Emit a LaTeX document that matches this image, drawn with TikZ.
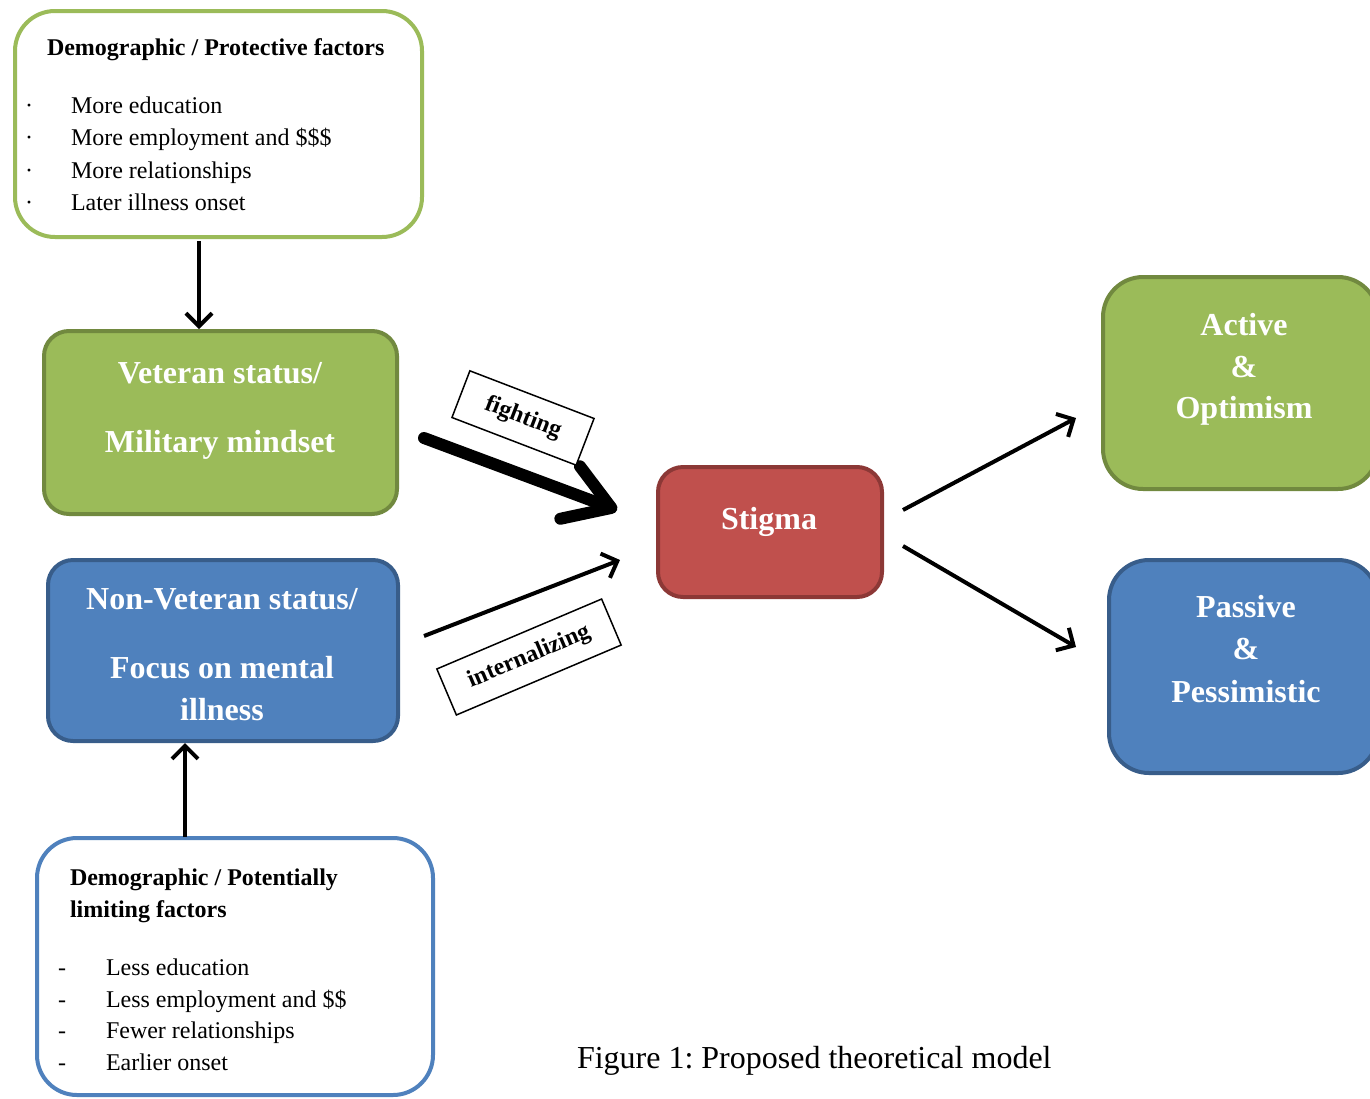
\documentclass[tikz,border=0pt]{standalone}
\usepackage{fontspec}
\setmainfont{Liberation Serif}
\usetikzlibrary{arrows.meta}
\frenchspacing
\definecolor{gfill}{HTML}{9BBB59}
\definecolor{gdark}{HTML}{71893F}
\definecolor{bfill}{HTML}{4F81BD}
\definecolor{bdark}{HTML}{385D8A}
\definecolor{rfill}{HTML}{C0504D}
\definecolor{rdark}{HTML}{8C3836}
\begin{document}
\begin{tikzpicture}[x=1pt,y=-1pt,
  every node/.style={inner sep=0pt, outer sep=0pt},
  panel/.style={draw, line width=4pt, rounded corners=#1},
  panel/.default=25pt,
  bodytxt/.style={anchor=base west, font=\fontsize{24}{28}\selectfont},
  headtxt/.style={anchor=base west, font=\bfseries\fontsize{24}{28}\selectfont},
  wtxt/.style={anchor=base, text=white, font=\bfseries\fontsize{32}{36}\selectfont},
  lbl/.style={draw, line width=1.5pt, fill=white, minimum height=50pt, font=\bfseries\fontsize{24}{28}\selectfont},
  arr/.style={line width=4pt, -{Straight Barb[length=13pt,width=26pt]}},
  bigarr/.style={line width=12pt, line cap=round, -{Straight Barb[length=44pt,width=56pt,round]}}
]
\useasboundingbox (0,0) rectangle (1370,1098);
\clip (0,0) rectangle (1370,1098);

% boxes
\node[panel=40pt, draw=gfill, fill=white, minimum width=407pt, minimum height=226pt] (top) at (218.5,124) {};
\node[panel, draw=gdark, fill=gfill, minimum width=353pt, minimum height=183pt] (vet) at (220.5,422.5) {};
\node[panel, draw=bdark, fill=bfill, minimum width=350pt, minimum height=181pt] (nonvet) at (223,650.5) {};
\node[panel=40pt, draw=bfill, fill=white, minimum width=396pt, minimum height=257pt] (bottom) at (235,966.5) {};
\node[panel, draw=rdark, fill=rfill, minimum width=224pt, minimum height=130pt] (stigma) at (770,532) {};
\node[panel=40pt, draw=gdark, fill=gfill, minimum width=275pt, minimum height=212pt] (active) at (1240.5,383) {};
\node[panel=40pt, draw=bdark, fill=bfill, minimum width=269pt, minimum height=213pt] (passive) at (1243.5,666.5) {};

% top box text
\node[headtxt] (toph) at (47,55) {Demographic / Protective factors};
\foreach \i/\yy/\t in {1/113/More education, 2/145/More employment and \$\$\$, 3/178/More relationships, 4/210/Later illness onset}{
  \node[bodytxt] (topb\i) at (25,\yy) {\textperiodcentered};
  \node[bodytxt] (topt\i) at (71,\yy) {\t};
}

% bottom box text
\node[headtxt] (both1) at (70,885) {Demographic / Potentially};
\node[headtxt] (both2) at (70,917) {limiting factors};
\foreach \i/\yy/\t in {1/975/Less education, 2/1007/Less employment and \$\$, 3/1038/Fewer relationships, 4/1070/Earlier onset}{
  \node[bodytxt] (botd\i) at (58,\yy) {-};
  \node[bodytxt] (bott\i) at (106,\yy) {\t};
}

% white texts
\node[wtxt] (vt1) at (220,383) {Veteran status/};
\node[wtxt] (vt2) at (220,452) {Military mindset};
\node[wtxt] (nv1) at (222,609) {Non-Veteran status/};
\node[wtxt] (nv2) at (222,678) {Focus on mental};
\node[wtxt] (nv3) at (222,720) {illness};
\node[wtxt] (st) at (769,529) {Stigma};
\node[wtxt] (ac1) at (1244,335) {Active};
\node[wtxt] (ac2) at (1244,377) {\&};
\node[wtxt] (ac3) at (1244,418) {Optimism};
\node[wtxt] (pa1) at (1246,617) {Passive};
\node[wtxt] (pa2) at (1246,659) {\&};
\node[wtxt] (pa3) at (1246,702) {Pessimistic};

% caption
\node[anchor=base west, font=\fontsize{32}{36}\selectfont] (cap) at (577,1068) {Figure 1: Proposed theoretical model};

% vertical connectors
\coordinate (xa) at (199,0);
\coordinate (xb) at (185,0);
\draw[arr] ([yshift=-4pt]top.south -| xa) -- ([yshift=2pt]vet.north -| xa);
\draw[arr] ([yshift=1pt]bottom.north -| xb) -- ([yshift=-2pt]nonvet.south -| xb);

% diagonal connectors
\coordinate (f1) at (424,438);
\coordinate (f2) at (617,510);
\coordinate (i1) at (424,636);
\coordinate (i2) at (620,560);
\coordinate (a1) at (903,510);
\coordinate (a2) at (1076,418);
\coordinate (p1) at (903,546);
\coordinate (p2) at (1076,647);
\draw[bigarr] (f1) -- (f2);
\draw[arr] (i1) -- (i2);
\draw[arr] (a1) -- (a2);
\draw[arr] (p1) -- (p2);

% labels
\node[lbl, rotate=-21, minimum width=133pt] (fight) at (523,418) {fighting};
\node[lbl, rotate=23, minimum width=179pt] (intern) at (529,657) {internalizing};
\end{tikzpicture}
\end{document}
